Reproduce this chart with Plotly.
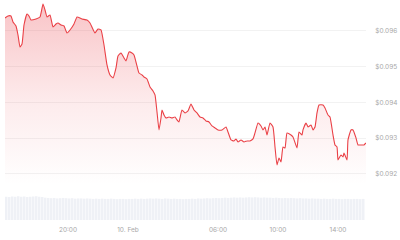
import plotly.graph_objects as go
import pandas as pd

# ---- price series ----
times = [
    "2024-02-09 15:48", "2024-02-09 16:00", "2024-02-09 16:12", "2024-02-09 16:20", "2024-02-09 16:32",
    "2024-02-09 16:40", "2024-02-09 16:48", "2024-02-09 16:56", "2024-02-09 17:04", "2024-02-09 17:16",
    "2024-02-09 17:24", "2024-02-09 17:32", "2024-02-09 17:52", "2024-02-09 18:08", "2024-02-09 18:20",
    "2024-02-09 18:28", "2024-02-09 18:36", "2024-02-09 18:48", "2024-02-09 19:00", "2024-02-09 19:12",
    "2024-02-09 19:20", "2024-02-09 19:32", "2024-02-09 19:44", "2024-02-09 19:56", "2024-02-09 20:08",
    "2024-02-09 20:24", "2024-02-09 20:36", "2024-02-09 20:56", "2024-02-09 21:16", "2024-02-09 21:28",
    "2024-02-09 21:48", "2024-02-09 22:00", "2024-02-09 22:12", "2024-02-09 22:24", "2024-02-09 22:36",
    "2024-02-09 22:48", "2024-02-09 23:00", "2024-02-09 23:12", "2024-02-09 23:20", "2024-02-09 23:32",
    "2024-02-09 23:44", "2024-02-09 23:52", "2024-02-10 00:04", "2024-02-10 00:16", "2024-02-10 00:24",
    "2024-02-10 00:36", "2024-02-10 00:44", "2024-02-10 00:56", "2024-02-10 01:04", "2024-02-10 01:16",
    "2024-02-10 01:28", "2024-02-10 01:40", "2024-02-10 01:48", "2024-02-10 01:56", "2024-02-10 02:04",
    "2024-02-10 02:12", "2024-02-10 02:16", "2024-02-10 02:24", "2024-02-10 02:32", "2024-02-10 02:44",
    "2024-02-10 02:56", "2024-02-10 03:08", "2024-02-10 03:16", "2024-02-10 03:24", "2024-02-10 03:28",
    "2024-02-10 03:36", "2024-02-10 03:48", "2024-02-10 04:00", "2024-02-10 04:12", "2024-02-10 04:24",
    "2024-02-10 04:36", "2024-02-10 04:48", "2024-02-10 05:00", "2024-02-10 05:12", "2024-02-10 05:24",
    "2024-02-10 05:36", "2024-02-10 05:48", "2024-02-10 06:00", "2024-02-10 06:16", "2024-02-10 06:32",
    "2024-02-10 06:40", "2024-02-10 06:52", "2024-02-10 07:04", "2024-02-10 07:12", "2024-02-10 07:20",
    "2024-02-10 07:32", "2024-02-10 07:44", "2024-02-10 07:56", "2024-02-10 08:08", "2024-02-10 08:20",
    "2024-02-10 08:28", "2024-02-10 08:40", "2024-02-10 08:52", "2024-02-10 09:00", "2024-02-10 09:08",
    "2024-02-10 09:16", "2024-02-10 09:28", "2024-02-10 09:40", "2024-02-10 09:48", "2024-02-10 09:56",
    "2024-02-10 10:04", "2024-02-10 10:12", "2024-02-10 10:20", "2024-02-10 10:28", "2024-02-10 10:36",
    "2024-02-10 10:52", "2024-02-10 11:00", "2024-02-10 11:16", "2024-02-10 11:24", "2024-02-10 11:36",
    "2024-02-10 11:40", "2024-02-10 11:52", "2024-02-10 12:00", "2024-02-10 12:12", "2024-02-10 12:20",
    "2024-02-10 12:28", "2024-02-10 12:36", "2024-02-10 12:44", "2024-02-10 13:00", "2024-02-10 13:08",
    "2024-02-10 13:20", "2024-02-10 13:28", "2024-02-10 13:40", "2024-02-10 13:48", "2024-02-10 13:56",
    "2024-02-10 14:00", "2024-02-10 14:12", "2024-02-10 14:20", "2024-02-10 14:24", "2024-02-10 14:36",
    "2024-02-10 14:40", "2024-02-10 14:52", "2024-02-10 15:00", "2024-02-10 15:12", "2024-02-10 15:20",
    "2024-02-10 15:36", "2024-02-10 15:44", "2024-02-10 15:52",
]
prices = [
    0.096364, 0.096420, 0.096420, 0.096252, 0.096140,
    0.095888, 0.095552, 0.095636, 0.096168, 0.096476,
    0.096420, 0.096308, 0.096336, 0.096392, 0.096755,
    0.096587, 0.096392, 0.096448, 0.096112, 0.096196,
    0.096224, 0.096168, 0.096140, 0.095944, 0.096028,
    0.096196, 0.096392, 0.096336, 0.096308, 0.096224,
    0.095944, 0.096056, 0.096028, 0.095608, 0.095049,
    0.094769, 0.094685, 0.094965, 0.095301, 0.095385,
    0.095245, 0.095161, 0.095413, 0.095385, 0.095329,
    0.095021, 0.094825, 0.094769, 0.094713, 0.094657,
    0.094434, 0.094322, 0.094210, 0.093734, 0.093231,
    0.093567, 0.093790, 0.093650, 0.093567, 0.093595,
    0.093567, 0.093595, 0.093511, 0.093455, 0.093567,
    0.093790, 0.093706, 0.093762, 0.093958, 0.093790,
    0.093706, 0.093595, 0.093567, 0.093483, 0.093455,
    0.093343, 0.093287, 0.093231, 0.093231, 0.093315,
    0.093175, 0.092951, 0.092923, 0.092979, 0.092895,
    0.092951, 0.092895, 0.092923, 0.092923, 0.092979,
    0.093147, 0.093427, 0.093343, 0.093231, 0.093315,
    0.093091, 0.093427, 0.093315, 0.092755, 0.092252,
    0.092448, 0.092336, 0.092755, 0.092727, 0.093147,
    0.093091, 0.093035, 0.092727, 0.093175, 0.093091,
    0.093231, 0.093427, 0.093315, 0.093371, 0.093231,
    0.093315, 0.093706, 0.093930, 0.093930, 0.093846,
    0.093650, 0.093595, 0.093091, 0.092811, 0.092755,
    0.092392, 0.092532, 0.092476, 0.092588, 0.092392,
    0.092951, 0.093231, 0.093231, 0.093007, 0.092811,
    0.092811, 0.092811, 0.092867,
]

# ---- volume series (relative heights) ----
volumes = [
    0.97, 0.96, 0.98, 0.97, 0.99, 0.97, 0.98, 0.96, 0.97, 0.98,
    0.99, 0.97, 0.96, 0.93, 0.92, 0.91, 0.92, 0.90, 0.91, 0.92,
    0.91, 0.90, 0.91, 0.89, 0.90, 0.90, 0.89, 0.90, 0.89, 0.88,
    0.89, 0.88, 0.89, 0.88, 0.88, 0.89, 0.88, 0.87, 0.88, 0.88,
    0.87, 0.88, 0.88, 0.89, 0.88, 0.89, 0.88, 0.89, 0.90, 0.89,
    0.90, 0.89, 0.88, 0.90, 0.89, 0.88, 0.89, 0.88, 0.88, 0.87,
    0.88, 0.88, 0.89, 0.88, 0.90, 0.89, 0.90, 0.91, 0.90, 0.91,
    0.92, 0.91, 0.92, 0.93, 0.92, 0.93, 0.94, 0.93, 0.94, 0.93,
    0.94, 0.95, 0.94, 0.95, 0.94, 0.93, 0.94, 0.93, 0.93, 0.92,
    0.93, 0.92, 0.91, 0.92, 0.91, 0.92, 0.91, 0.90, 0.91, 0.90,
    0.90, 0.89, 0.90, 0.89, 0.89, 0.88, 0.89, 0.88, 0.88, 0.89,
    0.88, 0.88, 0.87, 0.88, 0.88, 0.87, 0.88, 0.88, 0.87, 0.88,
]
vol_times = pd.date_range("2024-02-09 15:54", periods=len(volumes), freq="12min")

x_tickvals = ["2024-02-09 20:00", "2024-02-10 00:00", "2024-02-10 06:00",
              "2024-02-10 10:00", "2024-02-10 14:00"]
x_ticktext = ["20:00", "10. Feb", "06:00", "10:00", "14:00"]
y_tickvals = [0.092, 0.093, 0.094, 0.095, 0.096]
y_ticktext = ["$0.092", "$0.093", "$0.094", "$0.095", "$0.096"]

RED = "rgb(234,64,70)"
LABEL = "#a8a8a8"

fig = go.Figure()
fig.add_trace(go.Bar(
    x=vol_times, y=volumes, yaxis="y2", xaxis="x",
    marker=dict(color="#eff1f6", line=dict(width=0)),
    hoverinfo="skip", showlegend=False,
))
fig.add_trace(go.Scatter(
    x=pd.to_datetime(times), y=prices, mode="lines",
    line=dict(color=RED, width=1.1, shape="spline", smoothing=0.4),
    fill="tozeroy",
    fillgradient=dict(type="vertical",
                      colorscale=[[0, "rgba(234,57,67,0.0)"], [0.45, "rgba(234,57,67,0.10)"],
                                  [1, "rgba(234,57,67,0.30)"]],
                      start=0.0917, stop=0.0968),
    showlegend=False,
))

fig.update_layout(
    width=400, height=240,
    margin=dict(l=5, r=34, t=2, b=20),
    paper_bgcolor="white", plot_bgcolor="white",
    bargap=0.35,
    font=dict(family="Inter, Roboto, sans-serif", size=6.5, color=LABEL),
    xaxis=dict(
        type="date", anchor="y2",
        range=["2024-02-09 15:48", "2024-02-10 15:52"],
        tickvals=x_tickvals, ticktext=x_ticktext,
        showgrid=False, zeroline=False, showline=False,
        ticks="outside", ticklen=3, tickcolor="rgba(0,0,0,0)",
        tickfont=dict(size=6.5, color=LABEL),
    ),
    yaxis=dict(
        domain=[0.147, 1.0], side="right",
        range=[0.091608, 0.096811],
        tickvals=y_tickvals, ticktext=y_ticktext,
        showgrid=True, gridcolor="#f2f2f2", gridwidth=1,
        zeroline=False, showline=False,
        ticks="outside", ticklen=7, tickcolor="rgba(0,0,0,0)",
        tickfont=dict(size=6.5, color=LABEL),
    ),
    yaxis2=dict(
        domain=[0.0, 0.11], range=[0, 1.0],
        showgrid=False, zeroline=False, showline=False, showticklabels=False,
    ),
)

fig.write_html("out.html")
